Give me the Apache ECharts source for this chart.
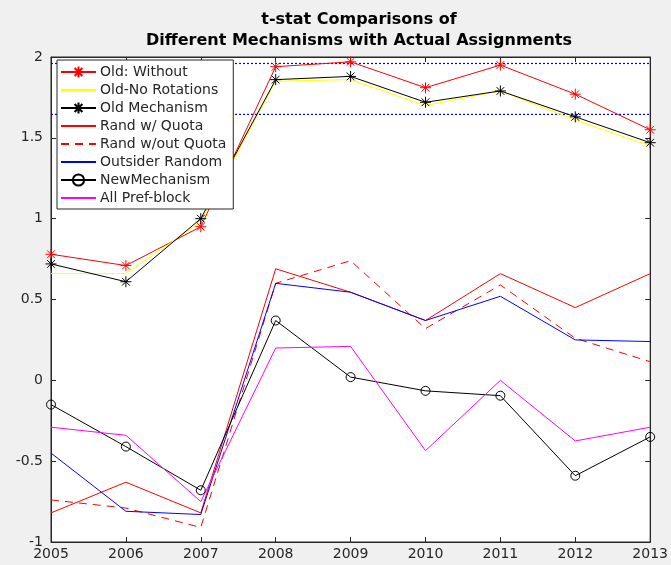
<!DOCTYPE html>
<html>
<head>
<meta charset="utf-8">
<script src="https://cdn.jsdelivr.net/npm/echarts@6/dist/echarts.min.js"></script>
<style>
html, body { margin: 0; padding: 0; background: #f0f0f0; }
#chart { width: 671px; height: 565px; }
</style>
</head>
<body>
<div id="chart"></div>
<script>
// 年份
const years = [2005, 2006, 2007, 2008, 2009, 2010, 2011, 2012, 2013];
const oldWithout = [0.78, 0.71, 0.95, 1.94, 1.97, 1.81, 1.95, 1.77, 1.55];
const oldNoRot = [0.66, 0.66, 0.98, 1.85, 1.86, 1.70, 1.79, 1.61, 1.45];
const oldMech = [0.72, 0.61, 1.00, 1.86, 1.88, 1.72, 1.79, 1.63, 1.47];
const randQuota = [-0.82, -0.63, -0.82, 0.69, 0.545, 0.37, 0.66, 0.45, 0.66];
const randNoQuota = [-0.74, -0.79, -0.91, 0.60, 0.74, 0.32, 0.59, 0.26, 0.115];
const outsider = [-0.45, -0.81, -0.83, 0.60, 0.545, 0.37, 0.52, 0.25, 0.24];
const newMech = [-0.15, -0.41, -0.68, 0.37, 0.02, -0.065, -0.095, -0.59, -0.35];
const allPref = [-0.29, -0.34, -0.75, 0.20, 0.21, -0.435, 0.0, -0.375, -0.29];
const critVals = [1.96, 1.645];

const star = 'path://M5 0L5 10M0 5L10 5M1.5 1.5L8.5 8.5M8.5 1.5L1.5 8.5';
const axisColor = '#262626';
const font = 'DejaVu Sans';

function pairs(arr) {
	return years.map(function (y, i) { return [y, arr[i]]; });
}

function mkSeries(name, arr, color, opt) {
	opt = opt || {};
	return {
		name: name,
		type: 'line',
		data: pairs(arr),
		symbol: opt.symbol || 'circle',
		symbolSize: opt.symbolSize || 10,
		showSymbol: !!opt.symbol,
		lineStyle: { color: color, width: 1, type: opt.dash ? [8, 6] : 'solid' },
		itemStyle: { color: 'rgba(0,0,0,0)', borderColor: color, borderWidth: 1 },
		color: color,
		animation: false,
		emphasis: { disabled: true }
	};
}

// 临界值虚线（画在最底下）
const series = critVals.map(function (v) {
	return {
		name: 'crit' + v,
		type: 'line',
		data: [[years[0], v], [years[years.length - 1], v]],
		showSymbol: false,
		silent: true,
		animation: false,
		color: '#0000ff',
		lineStyle: { color: '#0000ff', width: 1.2, type: [2, 2] }
	};
});

series.push(
	mkSeries('Old: Without', oldWithout, '#ff0000', { symbol: star, symbolSize: 11 }),
	mkSeries('Old-No Rotations', oldNoRot, '#ffff00'),
	mkSeries('Old Mechanism', oldMech, '#000000', { symbol: star, symbolSize: 11 }),
	mkSeries('Rand w/ Quota', randQuota, '#ff0000'),
	mkSeries('Rand w/out Quota', randNoQuota, '#ff0000', { dash: true }),
	mkSeries('Outsider Random', outsider, '#0000ff'),
	mkSeries('NewMechanism', newMech, '#000000', { symbol: 'circle', symbolSize: 9 }),
	mkSeries('All Pref-block', allPref, '#ff00ff')
);

const legendData = series.slice(2).map(function (s) {
	return s.showSymbol ? { name: s.name } : { name: s.name, itemStyle: { opacity: 0 } };
});

const option = {
	backgroundColor: '#f0f0f0',
	animation: false,
	title: {
		text: 't-stat Comparisons of\nDifferent Mechanisms with Actual Assignments',
		left: 354,
		textAlign: 'center',
		top: 4,
		textStyle: { fontFamily: font, fontSize: 16, fontWeight: 'bold', color: '#000', lineHeight: 21 }
	},
	legend: {
		orient: 'vertical',
		left: 57,
		top: 60,
		itemWidth: 35,
		itemHeight: 14,
		itemGap: 4,
		padding: [5, 7, 4, 3],
		backgroundColor: '#fff',
		borderColor: axisColor,
		borderWidth: 1,
		borderRadius: 0,
		textStyle: { fontFamily: font, fontSize: 14, color: axisColor, padding: [0, 0, 0, -1] },
		data: legendData
	},
	grid: { left: 51, right: 14, top: 57, bottom: 23, show: true, backgroundColor: '#fff', borderColor: axisColor, borderWidth: 1 },
	xAxis: [{
		type: 'value', min: 2005, max: 2013, interval: 1,
		axisLine: { onZero: false, lineStyle: { color: axisColor } },
		axisTick: { inside: true, length: 5, lineStyle: { color: axisColor } },
		axisLabel: { fontFamily: font, fontSize: 14, color: axisColor, margin: 5, formatter: function (v) { return String(v); } },
		splitLine: { show: false }
	}, {
		type: 'value', min: 2005, max: 2013, interval: 1, position: 'top',
		axisLine: { onZero: false, lineStyle: { color: axisColor } },
		axisTick: { inside: true, length: 5, lineStyle: { color: axisColor } },
		axisLabel: { show: false },
		splitLine: { show: false }
	}],
	yAxis: [{
		type: 'value', min: -1, max: 2, interval: 0.5,
		axisLine: { show: true, onZero: false, lineStyle: { color: axisColor } },
		axisTick: { show: true, inside: true, length: 5, lineStyle: { color: axisColor } },
		axisLabel: { fontFamily: font, fontSize: 14, color: axisColor, margin: 8 },
		splitLine: { show: false }
	}, {
		type: 'value', min: -1, max: 2, interval: 0.5, position: 'right',
		axisLine: { show: true, onZero: false, lineStyle: { color: axisColor } },
		axisTick: { show: true, inside: true, length: 5, lineStyle: { color: axisColor } },
		axisLabel: { show: false },
		splitLine: { show: false }
	}],
	series: series
};

let myChart = echarts.init(document.getElementById('chart'));
myChart.setOption(option);
</script>
</body>
</html>
